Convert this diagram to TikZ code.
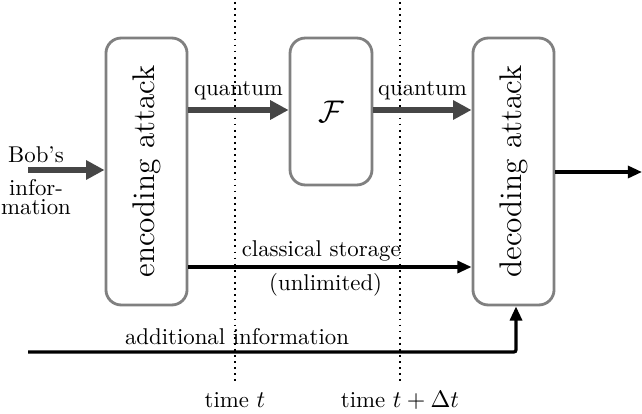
\documentclass[tikz,border=0pt]{standalone}
\usepackage{amsmath}
\usepackage{amssymb}
\usetikzlibrary{arrows.meta,calc}

\tikzset{
  box/.style={draw=gray, line width=1.3pt, rounded corners=7pt, fill=white},
  lbl/.style={font=\fontsize{10.5}{12}\selectfont},
  qarrow/.style={draw=gray!55!black, line width=2.4pt, -{Triangle[length=8.5pt,width=8.5pt]}},
  carrow/.style={draw=black, line width=1.5pt, -{Triangle[length=6.5pt,width=5.5pt]}},
  tline/.style={dotted, line width=0.8pt},
}

\begin{document}
\begin{tikzpicture}[x=0.46pt,y=-0.46pt]
	\useasboundingbox (0,0) rectangle (642,414);

	% time lines
	\coordinate (t1top) at (235,2);
	\coordinate (t1bot) at (235,382);
	\coordinate (t2top) at (400,2);
	\coordinate (t2bot) at (400,382);
	\draw [tline] (t1top)--(t1bot);
	\draw [tline] (t2top)--(t2bot);
	\node [lbl] (time1) at (235,400) {time $t$};
	\node [lbl] (time2) at (400,400) {time $t+\Delta t$};

	% boxes
	\node [box, minimum width=37.3pt, minimum height=122.8pt] (enc) at (146.5,171.5)
		{\rotatebox{90}{\Large encoding attack}};
	\node [box, minimum width=37.7pt, minimum height=67.6pt] (F) at (331,111.5)
		{\Large $\mathcal{F}$};
	\node [box, minimum width=37.3pt, minimum height=122.8pt] (dec) at (513.5,171.5)
		{\rotatebox{90}{\Large decoding attack}};

	% quantum channel
	\coordinate (q) at (0,110);
	\draw [qarrow] (enc.east |- q)--(F.west |- q) node [lbl, midway, above=0pt, text=black] {quantum};
	\draw [qarrow] (F.east |- q)--(dec.west |- q) node [lbl, midway, above=0pt, text=black] {quantum};

	% Bob's information
	\coordinate (bob) at (28,170);
	\draw [qarrow] (bob)--(enc.west |- bob);
	\node [lbl, inner sep=1pt] (bobtxt) at (36,155) {Bob's};
	\node [lbl, align=center, inner sep=1pt] (bobinfo) at (36,197) {infor-\\[-3pt]mation};

	% classical storage
	\coordinate (cl) at (0,267);
	\draw [carrow] (enc.east |- cl)--(dec.west |- cl)
		node [lbl, midway, above=-1.5pt, xshift=-4pt] {classical storage}
		node [lbl, midway, below=-1pt, xshift=-2pt] {(unlimited)};

	% additional information
	\coordinate (add) at (28,352);
	\coordinate (addcorner) at (516,352);
	\draw [carrow, rounded corners=1pt] (add)--(addcorner)--(addcorner |- dec.south);
	\node [lbl, above] (addtxt) at (237,352) {additional information};

	% output
	\coordinate (out) at (642,172);
	\draw [carrow] (dec.east |- out)--(out);
\end{tikzpicture}
\end{document}
